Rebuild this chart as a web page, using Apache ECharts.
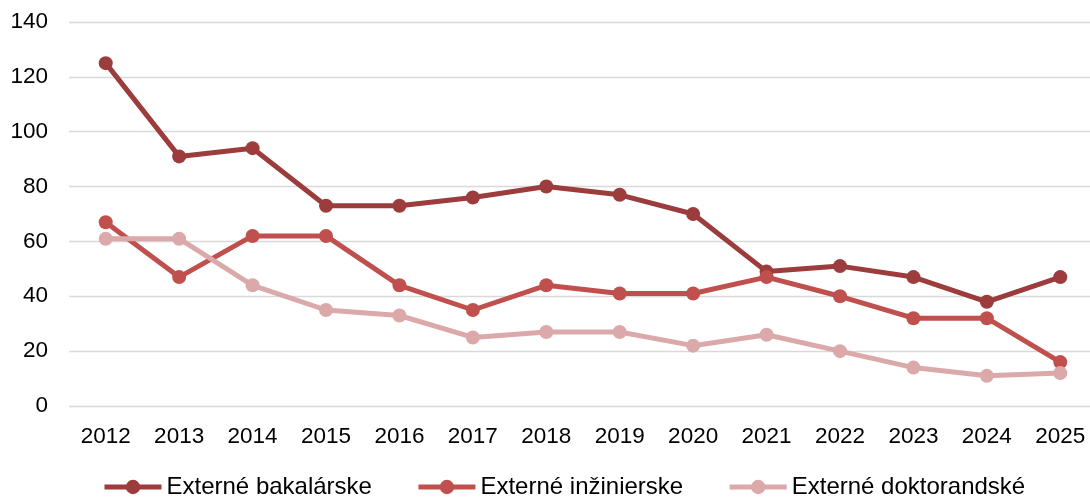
<!DOCTYPE html>
<html><head><meta charset="utf-8">
<script src="https://cdn.jsdelivr.net/npm/echarts@6/dist/echarts.min.js"></script>
<style>html,body{margin:0;padding:0;background:#fff}#c{width:1090px;height:497px}</style>
</head><body><div id="c"></div>
<script>
const years = ['2012','2013','2014','2015','2016','2017','2018','2019','2020','2021','2022','2023','2024','2025'];
const bakalarske = [125, 91, 94, 73, 73, 76, 80, 77, 70, 49, 51, 47, 38, 47];
const inzinierske = [67, 47, 62, 62, 44, 35, 44, 41, 41, 47, 40, 32, 32, 16];
const doktorandske = [61, 61, 44, 35, 33, 25, 27, 27, 22, 26, 20, 14, 11, 12];
const names = ['Externé bakalárske','Externé inžinierske','Externé doktorandské'];
const colors = ['#9c3c3c','#c0504d','#dba9a9'];
const font = 'Liberation Sans, Arial, sans-serif';
const chart = echarts.init(document.getElementById('c'));
const mk = (name, data, color) => ({
  name, type:'line', data, symbol:'circle', symbolSize:14,
  lineStyle:{width:5, color}, itemStyle:{color}, animation:false
});
chart.setOption({
  animation:false,
  color: colors,
  grid:{left:69, top:22, right:-7, bottom:91, containLabel:false, outerBoundsMode:'none'},
  legend:{top:470, left:97, itemWidth:57, itemHeight:18, itemGap:44,
    lineStyle:{width:5},
    textStyle:{fontFamily:font, fontSize:24, color:'#000'},
    data:names},
  xAxis:{type:'category', data:years, boundaryGap:true,
    axisLine:{show:false}, axisTick:{show:false},
    axisLabel:{fontFamily:font, fontSize:22.5, color:'#000', margin:19}},
  yAxis:{type:'value', min:0, max:140, interval:20,
    axisLine:{show:false}, axisTick:{show:false},
    axisLabel:{fontFamily:font, fontSize:22.5, color:'#000', margin:21},
    splitLine:{lineStyle:{color:'#d9d9d9', width:1.3}}},
  series:[mk(names[0], bakalarske, colors[0]), mk(names[1], inzinierske, colors[1]), mk(names[2], doktorandske, colors[2])]
});
</script></body></html>
